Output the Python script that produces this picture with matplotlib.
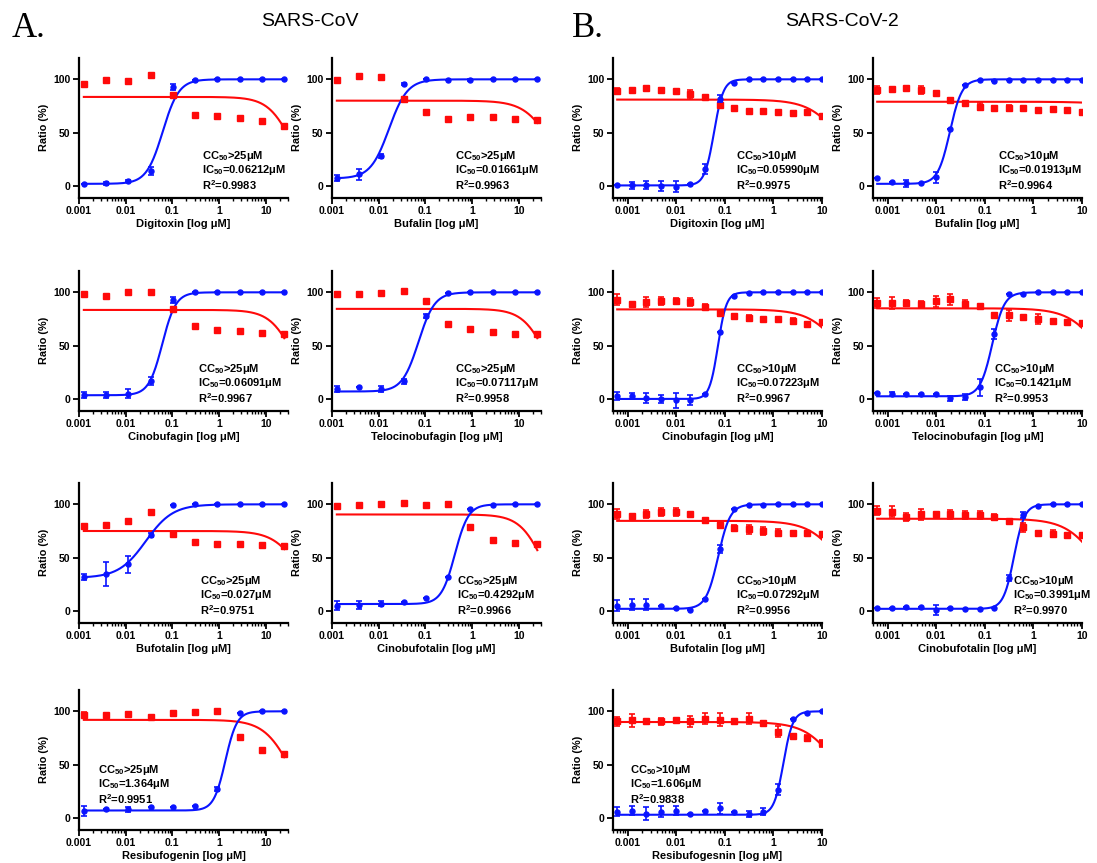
import numpy as np
import matplotlib
matplotlib.use("Agg")
from matplotlib import pyplot as plt
from matplotlib.ticker import FixedLocator, LogLocator, NullFormatter

plt.rcParams["font.family"] = ["Liberation Sans", "DejaVu Sans"]
plt.rcParams["font.weight"] = "bold"
plt.rcParams["mathtext.fontset"] = "custom"
plt.rcParams["mathtext.rm"] = "Liberation Sans:bold"
plt.rcParams["mathtext.it"] = "Liberation Sans:bold"
plt.rcParams["mathtext.bf"] = "Liberation Sans:bold"

# ---------------- DATA
# concentrations (uM)
conc_a = [0.00127, 0.00381, 0.0114, 0.0343, 0.103, 0.309, 0.926, 2.78, 8.33, 25]
conc_b = [0.00061, 0.00122, 0.00244, 0.00488, 0.00977, 0.0195, 0.0391, 0.0781,
          0.156, 0.3125, 0.625, 1.25, 2.5, 5, 10]

drugs_a = ["Digitoxin", "Bufalin", "Cinobufagin", "Telocinobufagin",
           "Bufotalin", "Cinobufotalin", "Resibufogenin"]
drugs_b = ["Digitoxin", "Bufalin", "Cinobufagin", "Telocinobufagin",
           "Bufotalin", "Cinobufotalin", "Resibufogesnin"]

ic50_text_a = ["0.06212", "0.01661", "0.06091", "0.07117", "0.027", "0.4292", "1.364"]
r2_text_a = ["0.9983", "0.9963", "0.9967", "0.9958", "0.9751", "0.9966", "0.9951"]
ic50_text_b = ["0.05990", "0.01913", "0.07223", "0.1421", "0.07292", "0.3991", "1.606"]
r2_text_b = ["0.9975", "0.9964", "0.9967", "0.9953", "0.9956", "0.9970", "0.9838"]

# SARS-CoV inhibition (blue) and viability (red)
a1_inf = [1.5, 2.5, 5, 14, 93, 99.5, 100, 100, 100, 100]
a1_inf_err = [0, 1.5, 1, 4, 3, 0, 0, 0, 0, 0]
a1_via = [96, 99, 98.5, 104, 85, 66.5, 65.5, 63.5, 61, 56.5]
a1_via_err = [0, 0, 0, 0, 2, 0, 0, 0, 0, 1.5]

a2_inf = [7.5, 11, 28, 96, 100, 99.5, 99, 100, 100, 100]
a2_inf_err = [3, 5, 2, 1, 0, 0, 1, 0, 0, 0]
a2_via = [99, 103, 102, 82, 69, 63, 64.5, 65, 62.5, 61.5]
a2_via_err = [0, 0, 0, 0, 0, 0, 0, 0, 0, 1]

a3_inf = [4, 4, 5, 17, 93, 100, 100, 100, 100, 100]
a3_inf_err = [3, 3, 4, 4, 3, 0, 0, 0, 0, 0]
a3_via = [98.5, 97, 100, 100, 84, 68, 65, 64, 62, 61]
a3_via_err = [0, 0, 0, 0, 0, 0, 0, 0, 0, 1]

a4_inf = [9.5, 11, 9.5, 16.5, 77.5, 99.5, 100, 100, 100, 100]
a4_inf_err = [3, 0, 3, 2, 2, 0, 0, 0, 0, 0]
a4_via = [98, 98.5, 99, 101, 91.5, 70.5, 66, 63, 61, 61]
a4_via_err = [0, 0, 0, 0, 0, 0, 0, 0, 0, 1]

a5_inf = [32, 34.5, 44, 71.5, 99.5, 100, 100, 100, 100, 100]
a5_inf_err = [3, 11, 8, 2, 0, 0, 0, 0, 0, 0]
a5_via = [80, 81, 84, 93, 72.5, 65, 63, 63, 62, 61]
a5_via_err = [0, 0, 0, 2, 0, 0, 0, 0, 0, 1]

a6_inf = [5, 5.5, 7, 8.5, 12, 32, 95.5, 99.5, 100, 100]
a6_inf_err = [4, 4, 2, 0, 0, 0, 0, 0, 0, 0]
a6_via = [98.5, 99, 100, 101, 99.5, 100.5, 79, 67, 63.5, 63]
a6_via_err = [0, 0, 0, 0, 0, 2, 0, 0, 0, 1]

a7_inf = [6.5, 8, 8, 10, 10, 11.5, 27, 98, 100, 100]
a7_inf_err = [5, 0, 2, 0, 0, 0, 2, 0, 0, 0]
a7_via = [97, 96.5, 97.5, 94.5, 98.5, 99, 100, 76, 64, 60]
a7_via_err = [2, 0, 0, 0, 0, 0, 0, 0, 0, 1]

# SARS-CoV-2 inhibition (blue) and viability (red)
b1_inf = [1, 0.5, 1, 0, -0.5, 1.5, 16, 82, 97, 100, 100, 100, 100, 100, 100]
b1_inf_err = [0, 3, 4, 5, 5, 0, 5, 3, 0, 0, 0, 0, 0, 0, 0]
b1_via = [89, 90, 91.5, 90, 89.5, 86, 83, 76, 73, 70.5, 70, 69, 68, 69, 66]
b1_via_err = [3, 0, 0, 2, 0, 4, 0, 0, 0, 0, 0, 0, 0, 0, 1]

b2_inf = [7.5, 4, 2.5, 3, 8, 53, 94.5, 99, 98, 99.5, 99, 99.5, 99.5, 99.5, 99.5]
b2_inf_err = [0, 0, 3, 0, 5, 0, 0, 0, 0, 0, 0, 0, 0, 0, 0]
b2_via = [90, 90.5, 91.5, 90, 87, 80.5, 77.5, 74.5, 73.5, 73, 73, 71.5, 72, 71, 69]
b2_via_err = [4, 0, 0, 4, 0, 2, 0, 3, 0, 3, 0, 0, 0, 0, 0]

b3_inf = [3, 3, 1, 0, -1, -1, 5, 63, 97, 99.5, 100, 100, 100, 100, 100]
b3_inf_err = [4, 3, 5, 4, 7, 5, 0, 0, 0, 0, 0, 0, 0, 0, 0]
b3_via = [93, 89, 91, 92, 92, 91, 86, 80.5, 77.5, 76, 75, 75, 73.5, 70.5, 72]
b3_via_err = [5, 0, 5, 4, 3, 4, 3, 3, 0, 3, 0, 0, 2, 0, 2]

b4_inf = [6, 4.5, 5, 4.5, 5, 0.5, 2, 11, 61, 98, 98.5, 100, 100, 100, 100]
b4_inf_err = [0, 2, 0, 0, 0, 2, 3, 8, 5, 0, 0, 0, 0, 0, 0]
b4_via = [90, 90, 90, 89, 91.5, 93.5, 89, 87, 79, 78.5, 76.5, 75, 73, 72, 71]
b4_via_err = [5, 6, 3, 3, 5, 5, 4, 0, 0, 5, 0, 5, 0, 0, 2]

b5_inf = [5, 6, 6, 4.5, 2.5, 1, 11, 58, 96, 99.5, 99.5, 100, 100, 100, 100]
b5_inf_err = [5, 5, 5, 0, 0, 0, 0, 4, 0, 0, 0, 0, 0, 0, 0]
b5_via = [91, 89.5, 91, 93, 93, 90.5, 85, 80.5, 78, 76.5, 75, 73.5, 73.5, 73.5, 72]
b5_via_err = [5, 0, 4, 4, 4, 0, 0, 3, 3, 4, 4, 3, 0, 0, 0]

b6_inf = [3, 3, 4, 4, 1, 2.5, 1.5, 1.5, 2.5, 31, 90, 98.5, 100, 100, 100]
b6_inf_err = [0, 0, 0, 0, 5, 0, 0, 0, 0, 3, 3, 0, 0, 0, 0]
b6_via = [94, 93, 88, 90.5, 90.5, 90.5, 90, 90, 88, 84, 78.5, 73.5, 72.5, 71, 71]
b6_via_err = [4, 5, 4, 5, 0, 4, 4, 4, 3, 0, 4, 0, 3, 0, 0]

b7_inf = [6, 7, 4, 6, 7, 4, 7, 9, 5.5, 4, 6, 26.5, 93, 98.5, 100]
b7_inf_err = [4, 4, 6, 5, 4, 0, 0, 5, 0, 3, 3, 5, 0, 0, 0]
b7_via = [90.5, 91.5, 90.5, 90.5, 92, 90.5, 93, 92, 91, 93, 89, 81, 76.5, 75, 70]
b7_via_err = [4, 6, 0, 3, 0, 5, 5, 6, 0, 5, 2, 5, 0, 3, 3]

# fitted 4PL parameters
ic_bottom_a = [2, 7, 3.5, 7, 31, 6.5, 7]
ic_hill_a = [2.5, 2.2, 3, 2.5, 1.5, 3, 3.5]
ic50_a = [0.06212, 0.01661, 0.06091, 0.07117, 0.027, 0.4292, 1.364]
cc_top_a = [83.5, 80, 83.5, 84.5, 75, 90.5, 92]
cc_mid_a = [35.7, 50, 39.2, 38.4, 56.7, 34.2, 34.6]
cc_hill_a = [1.7, 1.5, 1.7, 1.7, 1.5, 1.7, 1.5]

ic_bottom_b = [0.5, 2, 0, 2.5, 2, 2, 3]
ic_hill_b = [4.5, 3.5, 5, 3.5, 3.5, 4, 4.5]
ic50_b = [0.0599, 0.01913, 0.07223, 0.1421, 0.07292, 0.3991, 1.606]
cc_top_b = [81, 79, 84, 85, 84.5, 86.5, 90]
cc_mid_b = [27.7, 1000, 28.7, 27, 28, 23.4, 23.8]
cc_hill_b = [1.3, 1, 1.3, 1.3, 1.3, 1.3, 1.3]

inf_a = [a1_inf, a2_inf, a3_inf, a4_inf, a5_inf, a6_inf, a7_inf]
inf_err_a = [a1_inf_err, a2_inf_err, a3_inf_err, a4_inf_err, a5_inf_err, a6_inf_err, a7_inf_err]
via_a = [a1_via, a2_via, a3_via, a4_via, a5_via, a6_via, a7_via]
via_err_a = [a1_via_err, a2_via_err, a3_via_err, a4_via_err, a5_via_err, a6_via_err, a7_via_err]
inf_b = [b1_inf, b2_inf, b3_inf, b4_inf, b5_inf, b6_inf, b7_inf]
inf_err_b = [b1_inf_err, b2_inf_err, b3_inf_err, b4_inf_err, b5_inf_err, b6_inf_err, b7_inf_err]
via_b = [b1_via, b2_via, b3_via, b4_via, b5_via, b6_via, b7_via]
via_err_b = [b1_via_err, b2_via_err, b3_via_err, b4_via_err, b5_via_err, b6_via_err, b7_via_err]

# text anchor (axes fraction) for the CC50/IC50/R2 block
text_x_a = [0.59, 0.59, 0.57, 0.59, 0.58, 0.60, 0.09]
text_x_b = [0.59, 0.60, 0.59, 0.58, 0.59, 0.67, 0.08]

# ---------------- LAYOUT (pixels)
W, H = 1097, 863
col_x = [79, 332, 613, 873]
row_top = [58, 271, 483, 690]
ax_w, ax_h = 209, 139.7

fig = plt.figure(figsize=(W / 100, H / 100), dpi=100)

BLUE = "#0a14ff"
RED = "#ff0a0a"


def ic_curve(x, bottom, ic50, hill):
    return bottom + (100 - bottom) / (1 + (ic50 / x) ** hill)


def cc_curve(x, top, mid, hill):
    return top / (1 + (x / mid) ** hill)


def draw_panel(col, row, conc, inf, inf_err, via, via_err, fit_ic, fit_cc,
               drug, cc_txt, ic_txt, r2_txt, tx, xlim, top_left=False):
    left = col_x[col] / W
    bottom = 1 - (row_top[row] + ax_h) / H
    ax = fig.add_axes([left, bottom, ax_w / W, ax_h / H])
    ax.set_xscale("log")

    xs = np.logspace(np.log10(conc[0]), np.log10(conc[-1]), 300)
    ax.plot(xs, cc_curve(xs, *fit_cc), color=RED, lw=1.5, zorder=2)
    ax.plot(xs, ic_curve(xs, *fit_ic), color=BLUE, lw=1.5, zorder=3)

    ax.errorbar(conc, via, yerr=via_err, fmt="s", color=RED, ms=4.3,
                capsize=2.2, elinewidth=1.2, capthick=1.2, zorder=4)
    ax.errorbar(conc, inf, yerr=inf_err, fmt="o", color=BLUE, ms=3.6,
                capsize=2.2, elinewidth=1.2, capthick=1.2, zorder=5)

    ax.set_xlim(*xlim)
    ax.set_ylim(-11, 120)
    ax.set_yticks([0, 50, 100])
    ax.xaxis.set_major_locator(FixedLocator([0.001, 0.01, 0.1, 1, 10]))
    ax.set_xticklabels(["0.001", "0.01", "0.1", "1", "10"])
    ax.xaxis.set_minor_locator(LogLocator(base=10, subs=np.arange(2, 10), numticks=20))
    ax.xaxis.set_minor_formatter(NullFormatter())

    for s in ["top", "right"]:
        ax.spines[s].set_visible(False)
    for s in ["left", "bottom"]:
        ax.spines[s].set_linewidth(1.6)
    ax.tick_params(axis="both", which="major", direction="out", length=4,
                   width=1.3, labelsize=7.5, pad=2)
    ax.tick_params(axis="x", which="minor", direction="out", length=2.5, width=1)

    ax.set_ylabel("Ratio (%)", fontsize=7.8, fontweight="bold", labelpad=3)
    ax.set_xlabel(f"{drug} [log μM]", fontsize=8, fontweight="bold", labelpad=2)

    if top_left:
        ys = [0.43, 0.325, 0.22]
    else:
        ys = [0.30, 0.195, 0.09]
    lines = [f"CC$_{{50}}$>{cc_txt}μM", f"IC$_{{50}}$={ic_txt}μM", f"R$^{{2}}$={r2_txt}"]
    for line, yy in zip(lines, ys):
        ax.text(tx, yy, line, transform=ax.transAxes, fontsize=8,
                fontweight="bold", va="center", ha="left")
    return ax


# SARS-CoV panels
for i in range(7):
    draw_panel(i % 2, i // 2, conc_a, inf_a[i], inf_err_a[i], via_a[i], via_err_a[i],
               (ic_bottom_a[i], ic50_a[i], ic_hill_a[i]),
               (cc_top_a[i], cc_mid_a[i], cc_hill_a[i]),
               drugs_a[i], "25", ic50_text_a[i], r2_text_a[i], text_x_a[i],
               (0.001, 30), top_left=(i == 6))

# SARS-CoV-2 panels
for i in range(7):
    draw_panel(2 + i % 2, i // 2, conc_b, inf_b[i], inf_err_b[i], via_b[i], via_err_b[i],
               (ic_bottom_b[i], ic50_b[i], ic_hill_b[i]),
               (cc_top_b[i], cc_mid_b[i], cc_hill_b[i]),
               drugs_b[i], "10", ic50_text_b[i], r2_text_b[i], text_x_b[i],
               (0.0005, 10), top_left=(i == 6))

# panel headings
fig.text(12 / W, 1 - 37 / H, "A.", family="Liberation Serif", fontsize=25,
         fontweight="normal", va="baseline")
fig.text(572 / W, 1 - 37 / H, "B.", family="Liberation Serif", fontsize=25,
         fontweight="normal", va="baseline")
fig.text(310 / W, 1 - 22 / H, "SARS-CoV", fontsize=14, fontweight="normal",
         ha="center", va="center")
fig.text(842 / W, 1 - 22 / H, "SARS-CoV-2", fontsize=14, fontweight="normal",
         ha="center", va="center")

fig.savefig("out.png", dpi=100)
